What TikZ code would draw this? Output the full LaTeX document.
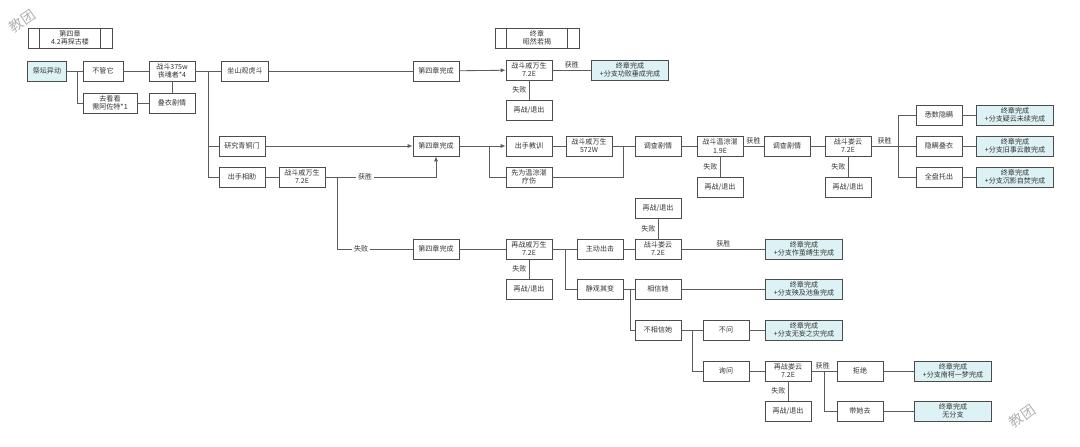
\documentclass[tikz,border=0pt]{standalone}
\usepackage{fontspec}
\setmainfont{Noto Sans CJK SC}
\usetikzlibrary{arrows.meta}

\definecolor{linegray}{HTML}{5C5C5C}
\definecolor{endcyan}{HTML}{DDF2F4}

\begin{document}
\begin{tikzpicture}[x=0.025cm,y=-0.025cm,
    every node/.style={font=\fontsize{5}{5.8}\selectfont,text=black!80},
    box/.style={draw=black!70,line width=0.6pt,fill=white,minimum width=1.15cm,minimum height=0.5cm,inner sep=0pt,align=center},
    endbox/.style={box,fill=endcyan,minimum width=1.92cm},
    chapbox/.style={box,minimum width=2.1cm,path picture={
        \draw[black!70,line width=0.6pt] ([xshift=0.28cm]path picture bounding box.north west) -- ([xshift=0.28cm]path picture bounding box.south west);
        \draw[black!70,line width=0.6pt] ([xshift=-0.28cm]path picture bounding box.north east) -- ([xshift=-0.28cm]path picture bounding box.south east);}},
    lbl/.style={fill=white,inner sep=1.5pt},
    link/.style={draw=linegray,line width=0.6pt},
    arr/.style={link,-{Latex[length=3.5pt,width=3pt]}},
    wmark/.style={rotate=35,text=black!30,font=\fontsize{10}{10}\selectfont}]
    \useasboundingbox (0,0) rectangle (1080,447);
    \node[wmark] (wmA) at (22,21) {教团};
    \node[wmark] (wmB) at (1022,416) {教团};%A%
    \node[chapbox] (ch4) at (70,38) {第四章\\4.2再探古楼};
    \node[chapbox] (fin) at (537,38) {终章\\昭然若揭};
    \node[box,fill=endcyan,minimum width=0.98cm] (altar) at (47,71) {祭坛异动};
    \node[box,minimum width=1cm] (ignore) at (103,71) {不管它};
    \node[box,minimum width=1.35cm] (look) at (110,103) {去看看\\需阿佐特*1};
    \node[box] (f375) at (172,71) {战斗375w\\丧魂者*4};
    \node[box] (dieyi) at (172,103) {叠衣剧情};
    \node[box,minimum width=1.18cm] (watch) at (245,71) {坐山观虎斗};
    \node[box] (study) at (242,146) {研究青铜门};
    \node[box] (help) at (242,177) {出手相助};
    \node[box] (qiA) at (302,177) {战斗戚万生\\7.2E};%B%
    \node[box] (doneA) at (436,71) {第四章完成};
    \node[box] (doneB) at (436,146) {第四章完成};
    \node[box] (doneC) at (436,249) {第四章完成};
    \node[box] (qiB) at (529,70) {战斗戚万生\\7.2E};
    \node[endbox] (endA) at (630,70) {终章完成\\+分支功败垂成完成};
    \node[box] (retryA) at (529,110) {再战/退出};
    \node[box] (teach) at (529,146) {出手教训};
    \node[box] (heal) at (529,177) {先为温淙湛\\疗伤};
    \node[box] (qiC) at (589,146) {战斗戚万生\\572W};
    \node[box] (plotA) at (658,146) {调查剧情};
    \node[box] (wen) at (720,146) {战斗温淙湛\\1.9E};
    \node[box] (retryB) at (720,187) {再战/退出};
    \node[box] (plotB) at (787,146) {调查剧情};
    \node[box] (louA) at (848,146) {战斗娄云\\7.2E};
    \node[box] (retryC) at (848,187) {再战/退出};
    \node[box] (hideall) at (939,115) {悉数隐瞒};
    \node[box] (hidedie) at (939,146) {隐瞒叠衣};
    \node[box] (tellall) at (939,177) {全盘托出};
    \node[endbox] (endB) at (1015,115) {终章完成\\+分支疑云未续完成};
    \node[endbox] (endC) at (1015,146) {终章完成\\+分支旧事云散完成};
    \node[endbox] (endD) at (1015,177) {终章完成\\+分支沉影自焚完成};%C%
    \node[box] (qiD) at (529,249) {再战戚万生\\7.2E};
    \node[box] (retryD) at (529,289) {再战/退出};
    \node[box] (attack) at (600,249) {主动出击};
    \node[box] (wait) at (600,289) {静观其变};
    \node[box] (louB) at (658,249) {战斗娄云\\7.2E};
    \node[box] (retryE) at (658,208) {再战/退出};
    \node[endbox] (endE) at (804,249) {终章完成\\+分支作茧缚生完成};
    \node[box] (trust) at (658,289) {相信她};
    \node[endbox] (endF) at (804,289) {终章完成\\+分支殃及池鱼完成};
    \node[box] (distrust) at (658,330) {不相信她};
    \node[box] (noask) at (726,330) {不问};
    \node[endbox] (endG) at (804,330) {终章完成\\+分支无妄之灾完成};
    \node[box] (ask) at (726,371) {询问};
    \node[box] (louC) at (788,371) {再战娄云\\7.2E};
    \node[box] (retryF) at (788,411) {再战/退出};
    \node[box] (refuse) at (860,371) {拒绝};
    \node[box] (takeher) at (860,411) {带她去};
    \node[endbox] (endH) at (953,371) {终章完成\\+分支南柯一梦完成};
    \node[endbox] (endI) at (953,411) {终章完成\\无分支};
    \coordinate (jA) at (77,71);
    \coordinate (jB) at (208,71);
    \coordinate (jC) at (337,177);
    \coordinate (jD) at (489,146);
    \coordinate (jE) at (623,146);
    \coordinate (jF) at (898,146);
    \coordinate (jG) at (565,249);
    \coordinate (jH) at (630,289);
    \coordinate (jI) at (692,330);
    \coordinate (jJ) at (824,371);
    \draw [link](altar) -- (ignore);
    \draw [link](jA) |- (look);
    \draw [link](ignore) -- (f375);
    \draw [link](look) -- (dieyi);
    \draw [link](f375) -- (dieyi);
    \draw [link](f375) -- (watch);
    \draw [link](jB) |- (study);
    \draw [link](jB) |- (help);
    \draw [link](help) -- (qiA);
    \draw [link](watch) -- (doneA);
    \draw [arr](doneA) -- (qiB);
    \draw [link](qiB) -- node[above,inner sep=1pt]{获胜} (endA);
    \draw [link](qiB) -- node[left,inner sep=1.5pt]{失败} (retryA);
    \draw [arr](study) -- (doneB);
    \draw [arr](qiA) -| node[lbl,pos=0.18]{获胜} (doneB);
    \draw [link](jC) |- node[lbl,pos=0.66]{失败} (doneC);
    \draw [arr](doneB) -- (teach);
    \draw [link](jD) |- (heal);
    \draw [link](teach) -- (qiC);
    \draw [link](qiC) -- (plotA);
    \draw [link](heal) -| (jE);
    \draw [link](plotA) -- (wen);
    \draw [link](wen) -- node[above,inner sep=1pt]{获胜} (plotB);
    \draw [link](wen) -- node[left,inner sep=1.5pt]{失败} (retryB);
    \draw [link](plotB) -- (louA);
    \draw [link](louA) -- node[left,inner sep=1.5pt]{失败} (retryC);
    \draw [link](louA) -- node[above,inner sep=1pt]{获胜} (jF);
    \draw [link](jF) |- (hideall);
    \draw [link](jF) -- (hidedie);
    \draw [link](jF) |- (tellall);
    \draw [link](hideall) -- (endB);
    \draw [link](hidedie) -- (endC);
    \draw [link](tellall) -- (endD);
    \draw [link](doneC) -- (qiD);
    \draw [link](qiD) -- node[left,inner sep=1.5pt]{失败} (retryD);
    \draw [link](qiD) -- (attack);
    \draw [link](jG) |- (wait);
    \draw [link](attack) -- (louB);
    \draw [link](louB) -- node[left,inner sep=1.5pt]{失败} (retryE);
    \draw [link](louB) -- node[above,inner sep=1pt]{获胜} (endE);
    \draw [link](wait) -- (trust);
    \draw [link](jH) |- (distrust);
    \draw [link](trust) -- (endF);
    \draw [link](distrust) -- (noask);
    \draw [link](jI) |- (ask);
    \draw [link](noask) -- (endG);
    \draw [link](ask) -- (louC);
    \draw [link](louC) -- node[left,inner sep=1.5pt]{失败} (retryF);
    \draw [link](louC) -- node[above,inner sep=1pt,pos=0.45]{获胜} (refuse);
    \draw [link](jJ) |- (takeher);
    \draw [link](refuse) -- (endH);
    \draw [link](takeher) -- (endI);
\end{tikzpicture}
\end{document}
